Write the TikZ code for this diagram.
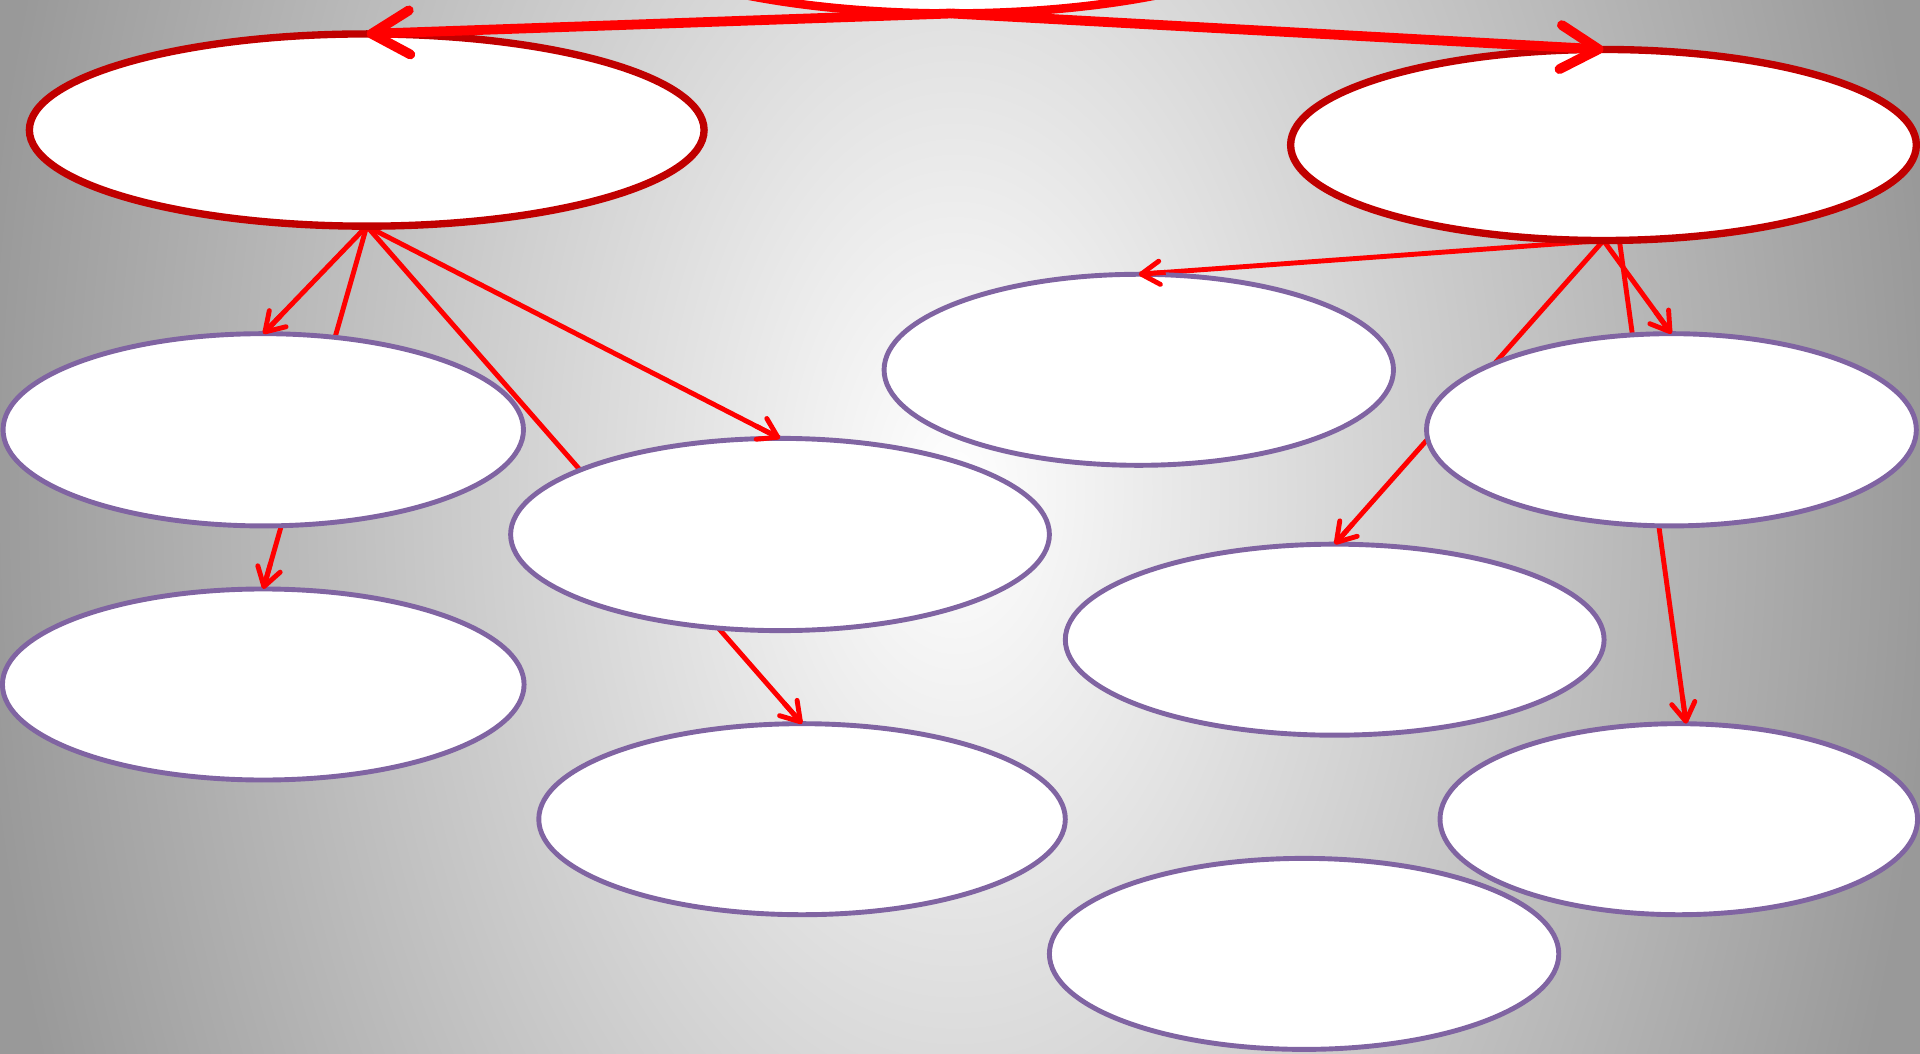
\documentclass[tikz,border=0pt]{standalone}
\usetikzlibrary{arrows.meta,shapes.geometric,calc}
\definecolor{purpB}{HTML}{8064A2}
\definecolor{darkR}{HTML}{C00000}
\definecolor{lineR}{HTML}{FF0000}
\definecolor{bgG}{HTML}{999999}
\pgfdeclareradialshading{bgsh}{\pgfpointorigin}{color(0bp)=(white); color(25bp)=(bgG); color(50bp)=(bgG)}
\pgfdeclarelayer{bglayer}
\pgfdeclarelayer{edgelayer}
\pgfsetlayers{bglayer,edgelayer,main}
\tikzset{
  topnode/.style={ellipse, draw=lineR, line width=7pt, fill=white, inner sep=0pt, outer sep=0pt},
  mainnode/.style={ellipse, draw=darkR, line width=6pt, fill=white, inner sep=0pt, outer sep=0pt},
  subnode/.style={ellipse, draw=purpB, line width=4pt, fill=white, inner sep=0pt, outer sep=0pt},
  bigarrow/.style={draw=lineR, line width=8pt, -{Straight Barb[length=31pt,width=36pt,round]}},
  smallline/.style={draw=lineR, line width=4pt},
  smallarrow/.style={draw=lineR, line width=4pt, -{Straight Barb[length=15pt,width=19pt,round]}},
}
\begin{document}
\begin{tikzpicture}[x=1pt,y=-1pt]
\useasboundingbox (0,0) rectangle (1568,860);
\begin{pgfonlayer}{bglayer}
  \begin{scope}
    \clip (-4,-4) rectangle (1572,864);
    \fill[bgG] (-4,-4) rectangle (1572,864);
    \shade[shading=bgsh] (780,400) ellipse [x radius=800pt, y radius=1300pt];
  \end{scope}
\end{pgfonlayer}

% nodes
\node[topnode, minimum width=612pt, minimum height=182pt] (root) at (777,-80) {};
\node[mainnode, minimum width=551pt, minimum height=157pt] (L1) at (299.5,106.2) {};
\node[mainnode, minimum width=511pt, minimum height=156pt] (R1) at (1309.5,118.4) {};
\node[subnode, minimum width=425pt, minimum height=157pt] (A) at (215,351) {};
\node[subnode, minimum width=426pt, minimum height=156pt] (B) at (215,559) {};
\node[subnode, minimum width=440pt, minimum height=157pt] (C) at (637,436.5) {};
\node[subnode, minimum width=430pt, minimum height=156pt] (D) at (655,669) {};
\node[subnode, minimum width=416pt, minimum height=156pt] (E) at (930,302) {};
\node[subnode, minimum width=400pt, minimum height=157pt] (F) at (1365,351) {};
\node[subnode, minimum width=440pt, minimum height=156pt] (G) at (1090,522.4) {};
\node[subnode, minimum width=390pt, minimum height=156pt] (H) at (1371,669) {};
\node[subnode, minimum width=416pt, minimum height=156pt] (I) at (1065,779) {};

\coordinate (Hs) at ([xshift=13pt]R1.south);
\coordinate (Ht) at ([xshift=6pt]H.north);

% connector lines, behind the nodes
\begin{pgfonlayer}{edgelayer}
  \draw[smallline] (L1.south) -- (A.north);
  \draw[smallline] (L1.south) -- (B.north);
  \draw[smallline] (L1.south) -- (C.north);
  \draw[smallline] (L1.south) -- (D.north);
  \draw[smallline] (R1.south) -- (E.north);
  \draw[smallline] (R1.south) -- (F.north);
  \draw[smallline] (R1.south) -- (G.north);
  \draw[smallline] (Hs) -- (Ht);
\end{pgfonlayer}

% arrow heads and top connectors, in front of the nodes
\draw[bigarrow] (root.south) -- (L1.north);
\draw[bigarrow] (root.south) -- (R1.north);
\draw[smallarrow] ($(A.north)!22pt!(L1.south)$) -- (A.north);
\draw[smallarrow] ($(B.north)!22pt!(L1.south)$) -- (B.north);
\draw[smallarrow] ($(C.north)!22pt!(L1.south)$) -- (C.north);
\draw[smallarrow] ($(D.north)!22pt!(L1.south)$) -- (D.north);
\draw[smallarrow] ($(E.north)!22pt!(R1.south)$) -- (E.north);
\draw[smallarrow] ($(F.north)!22pt!(R1.south)$) -- (F.north);
\draw[smallarrow] ($(G.north)!22pt!(R1.south)$) -- (G.north);
\draw[smallarrow] ($(Ht)!22pt!(Hs)$) -- (Ht);
\end{tikzpicture}
\end{document}
